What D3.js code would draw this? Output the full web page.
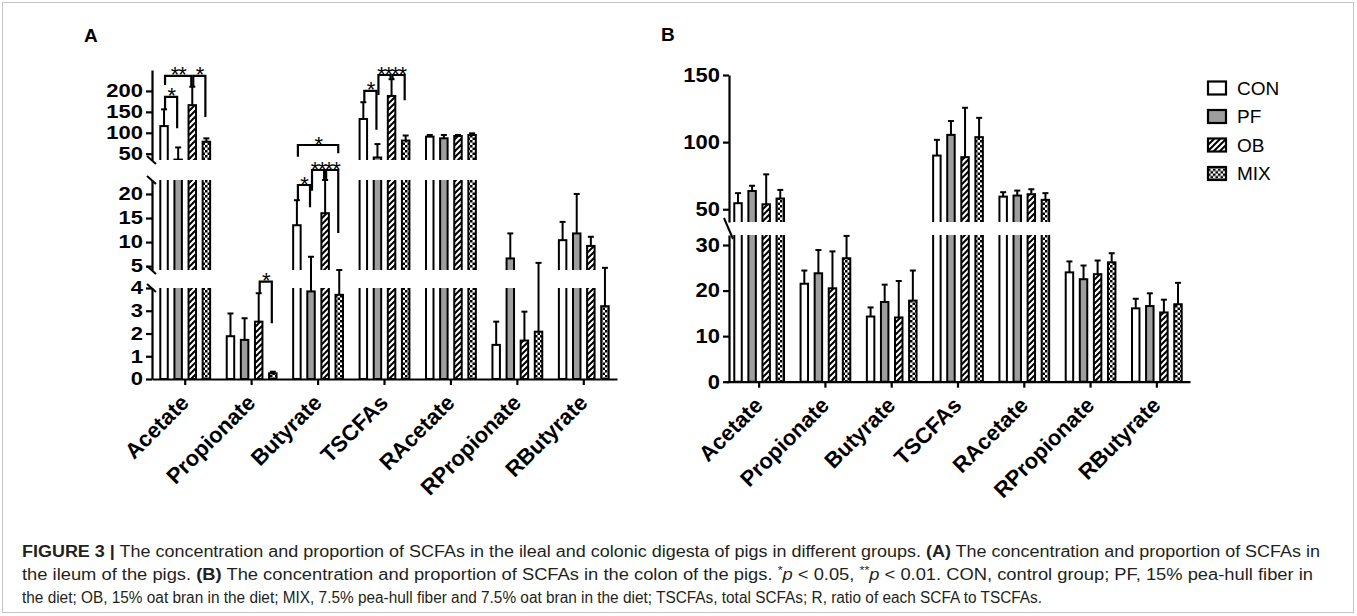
<!DOCTYPE html>
<html><head><meta charset="utf-8">
<script src="https://cdn.jsdelivr.net/npm/d3@7"></script>
<style>
body{margin:0;background:#fff;}
svg{display:block;font-family:"Liberation Sans",Arimo,Arial,Helvetica,sans-serif;}
</style></head><body>
<svg id="c" width="1357" height="616"></svg>
<script>
// ---------- data ----------
const categories = ["Acetate","Propionate","Butyrate","TSCFAs","RAcetate","RPropionate","RButyrate"];
const groups = ["CON","PF","OB","MIX"];

// Panel A: ileum
const ileumCON    = [116, 1.88, 13.5, 133, 90.7, 1.5, 10.4];
const ileumCONerr = [40, 1.0, 5.2, 40, 4, 1.02, 3.8];
const ileumPF     = [36, 1.72, 3.85, 41, 86.8, 6.6, 11.8];
const ileumPFerr  = [29, 0.95, 3.1, 32, 8, 5.2, 8.2];
const ileumOB     = [166, 2.52, 16, 188, 92.3, 1.69, 9.2];
const ileumOBerr  = [44, 1.25, 6.9, 40, 2.4, 1.27, 1.9];
const ileumMIX    = [78.7, 0.25, 3.7, 81.5, 94.7, 2.08, 3.2];
const ileumMIXerr = [8, 0.07, 0.5, 12, 4, 3.6, 1.45];

// Panel B: colon
const colonCON    = [54.5, 21.5, 14.3, 90, 59.4, 24, 16.1];
const colonCONerr = [7.5, 2.9, 2, 11.7, 3.3, 2.4, 2.1];
const colonPF     = [63.6, 23.8, 17.5, 105.4, 60.2, 22.5, 16.6];
const colonPFerr  = [3.9, 5.1, 3.8, 10.3, 3.7, 3, 2.8];
const colonOB     = [53.7, 20.5, 14.1, 88.8, 61.2, 23.6, 15.2];
const colonOBerr  = [22.3, 8.1, 8, 36.8, 3.7, 3, 2.8];
const colonMIX    = [58, 27.1, 17.8, 103.7, 57, 26.2, 17];
const colonMIXerr = [6.4, 4.9, 6.6, 14.4, 5, 2, 4.7];

// axis segments (broken y axes), listed bottom to top
const ticksA = [[0,1,2,3,4],[5,10,15,20],[50,100,150,200]];
const ticksB = [[0,10,20,30],[50,100,150]];

// significance brackets of panel A (values in data units)
const bracketsA = [
  {cat:"Acetate", from:"CON", to:"PF",  top:186,  left:156,  right:111,  label:"*"},
  {cat:"Acetate", from:"CON", to:"OB",  top:236,  left:214,  right:210,  label:"**"},
  {cat:"Acetate", from:"OB",  to:"MIX", top:236,  left:210,  right:138,  label:"*"},
  {cat:"Propionate", from:"OB", to:"MIX", top:4.07, left:3.78, right:2.45, label:"*"},
  {cat:"Butyrate", from:"CON", to:"MIX", top:70.8, left:42.9, right:51,  label:"*"},
  {cat:"Butyrate", from:"CON", to:"PF",  top:21.86, left:18.74, right:17.23, label:"*"},
  {cat:"Butyrate", from:"PF",  to:"OB",  top:28.95, left:20.68, right:22.9, label:"**"},
  {cat:"Butyrate", from:"OB",  to:"MIX", top:28.95, left:22.9, right:11.9, label:"**"},
  {cat:"TSCFAs", from:"CON", to:"PF",  top:200, left:173, right:107, label:"*"},
  {cat:"TSCFAs", from:"PF",  to:"OB",  top:238, left:190, right:228, label:"**"},
  {cat:"TSCFAs", from:"OB",  to:"MIX", top:238, left:228, right:178, label:"**"}
];

const legendLabels = ["CON","PF","OB","MIX"];

// ---------- drawing ----------
const svg = d3.select("#c");
const defs = svg.append("defs");
const FONT = '"Liberation Sans",Arimo,Arial,Helvetica,sans-serif';

const hatch = defs.append("pattern").attr("id","hatch").attr("patternUnits","userSpaceOnUse")
  .attr("width",6).attr("height",6);
hatch.append("rect").attr("width",6).attr("height",6).attr("fill","#fff");
hatch.append("path").attr("d","M-1,7 L7,-1 M-4,4 L4,-4 M2,10 L10,2")
  .attr("stroke","#000").attr("stroke-width",2);

const chk = defs.append("pattern").attr("id","checker").attr("patternUnits","userSpaceOnUse")
  .attr("width",5).attr("height",5);
chk.append("rect").attr("width",5).attr("height",5).attr("fill","#fff");
chk.append("rect").attr("width",2.5).attr("height",2.5).attr("fill","#000");
chk.append("rect").attr("x",2.5).attr("y",2.5).attr("width",2.5).attr("height",2.5).attr("fill","#000");

const fills = ["#ffffff","#9e9e9e","url(#hatch)","url(#checker)"];

// outer frame
svg.append("rect").attr("x",2.5).attr("y",2.5).attr("width",1351).attr("height",610)
  .attr("fill","none").attr("stroke","#c4c4c4").attr("stroke-width",1);

function drawPanel(p){
  const g = svg.append("g");
  const dom = [], rng = [];
  p.segments.forEach(s => { dom.push(s.domain[0], s.domain[1]); rng.push(s.range[0], s.range[1]); });
  const y = d3.scaleLinear().domain(dom).range(rng);
  const x0 = d3.scaleBand().domain(categories).range(p.xRange).paddingInner(0.25).paddingOuter(0.125);
  const x1 = d3.scaleBand().domain(groups).range([0, x0.bandwidth()]).paddingInner(0.47);
  const series = groups.map((name,i)=>({name, fill:fills[i], values:p.values[i], errors:p.errors[i]}));

  p.segments.forEach((s,si)=>{
    const id = p.id + "clip" + si;
    defs.append("clipPath").attr("id",id).append("rect")
      .attr("x",p.xRange[0]).attr("y",s.range[1])
      .attr("width",p.xRange[1]-p.xRange[0]).attr("height",s.range[0]-s.range[1]);
    const sg = g.append("g").attr("clip-path",`url(#${id})`);
    series.forEach(se=>{
      sg.selectAll(null).data(categories).join("rect")
        .attr("x", c => x0(c) + x1(se.name))
        .attr("y", (c,i) => y(se.values[i]))
        .attr("width", x1.bandwidth())
        .attr("height", (c,i) => y(0) - y(se.values[i]))
        .attr("fill", se.fill).attr("stroke","#000").attr("stroke-width",2);
    });
  });

  series.forEach(se=>{
    const eg = g.append("g").attr("stroke","#000").attr("stroke-width",2);
    const cx = c => x0(c) + x1(se.name) + x1.bandwidth()/2;
    eg.selectAll(null).data(categories).join("line")
      .attr("x1",cx).attr("x2",cx)
      .attr("y1",(c,i)=>y(se.values[i]))
      .attr("y2",(c,i)=>y(se.values[i]+se.errors[i]));
    eg.selectAll(null).data(categories).join("line")
      .attr("x1",c=>cx(c)-3).attr("x2",c=>cx(c)+3)
      .attr("y1",(c,i)=>y(se.values[i]+se.errors[i]))
      .attr("y2",(c,i)=>y(se.values[i]+se.errors[i]));
  });

  if (p.brackets){
    const bc = (c,gr) => x0(c) + x1(gr) + x1.bandwidth()/2;
    const bg = g.append("g");
    bg.selectAll(null).data(p.brackets).join("path")
      .attr("d", b => {
        const xa = bc(b.cat,b.from)+1, xb = bc(b.cat,b.to)-1;
        return `M${xa},${y(b.left)}V${y(b.top)}H${xb}V${y(b.right)}`;
      })
      .attr("fill","none").attr("stroke","#000").attr("stroke-width",2.2);
    bg.selectAll(null).data(p.brackets).join("text")
      .attr("x", b => (bc(b.cat,b.from)+bc(b.cat,b.to))/2)
      .attr("y", b => y(b.top) + 6.5)
      .attr("text-anchor","middle").attr("font-size",22).attr("letter-spacing",-1.2)
      .attr("font-family",FONT)
      .text(b => b.label);
  }

  p.segments.forEach((s,si)=>{
    const sc = d3.scaleLinear().domain(s.domain).range(s.range);
    const ax = g.append("g").attr("transform",`translate(${p.axisX},0)`)
      .call(d3.axisLeft(sc).tickValues(s.ticks).tickSize(6).tickSizeOuter(0).tickPadding(3).tickFormat(d3.format("d")));
    ax.attr("font-family",FONT);
    ax.select(".domain").attr("stroke-width",2.2).attr("stroke","#000");
    ax.selectAll(".tick line").attr("stroke-width",2.2).attr("stroke","#000");
    ax.selectAll(".tick text").attr("font-size",22).attr("font-weight","bold")
      .attr("font-family",FONT).attr("fill","#000")
      .attr("transform",`scale(1,${p.labelSquash})`);
  });

  const bm = g.append("g").attr("stroke","#000").attr("stroke-width",2);
  bm.selectAll(null).data(p.breaks).join("line")
    .attr("x1",p.axisX-5).attr("x2",p.axisX+4)
    .attr("y1",d=>y(d[0])-4).attr("y2",d=>y(d[1])+4);

  const xa = g.append("g").attr("transform",`translate(0,${y(0)})`)
    .call(d3.axisBottom(x0).tickSize(6).tickSizeOuter(0));
  xa.attr("font-family",FONT);
  xa.select(".domain").attr("stroke-width",2.2).attr("stroke","#000");
  xa.selectAll(".tick line").attr("stroke-width",2.2).attr("stroke","#000");
  xa.selectAll(".tick text").attr("font-size",22).attr("font-weight","bold")
    .attr("font-family",FONT).attr("fill","#000")
    .attr("text-anchor","end").attr("x",0).attr("y",0).attr("dy",0)
    .attr("transform","translate(5,25) rotate(-45)");

  svg.append("text").attr("x",p.label[1]).attr("y",p.label[2])
    .attr("font-size",19).attr("font-weight","bold").attr("font-family",FONT).text(p.label[0]);
}

drawPanel({
  id:"A",
  xRange:[152,617], axisX:152, labelSquash:0.82,
  segments:[
    {domain:[0,4], range:[379,288], ticks:ticksA[0]},
    {domain:[4.2,22.9], range:[270,180], ticks:ticksA[1]},
    {domain:[35,250], range:[160,70], ticks:ticksA[2]}
  ],
  breaks:[[4,4],[4.2,4.2],[22.9,22.9],[35,35]],
  values:[ileumCON, ileumPF, ileumOB, ileumMIX],
  errors:[ileumCONerr, ileumPFerr, ileumOBerr, ileumMIXerr],
  brackets:bracketsA,
  label:["A",84,42]
});

drawPanel({
  id:"B",
  xRange:[726,1190], axisX:729, labelSquash:0.9,
  segments:[
    {domain:[0,32.2], range:[381.7,235], ticks:ticksB[0]},
    {domain:[40.5,150], range:[222,75], ticks:ticksB[1]}
  ],
  breaks:[[40.5,32.2]],
  values:[colonCON, colonPF, colonOB, colonMIX],
  errors:[colonCONerr, colonPFerr, colonOBerr, colonMIXerr],
  brackets:null,
  label:["B",661,41]
});

const lg = svg.append("g").attr("transform","translate(1208,88)");
const li = lg.selectAll("g").data(legendLabels).join("g")
  .attr("transform",(d,i)=>`translate(0,${i*28.5})`);
li.append("rect").attr("x",0).attr("y",-6.5).attr("width",18).attr("height",13)
  .attr("fill",(d,i)=>fills[i]).attr("stroke","#000").attr("stroke-width",2.2);
li.append("text").attr("x",29).attr("y",0).attr("dy","0.36em")
  .attr("font-size",19).attr("font-family",FONT).text(d=>d);

const capFont = '"Liberation Sans",Arimo,Arial,sans-serif';
const captionLines = [
  {len:1298, parts:[["FIGURE 3 |","b"],[" The concentration and proportion of SCFAs in the ileal and colonic digesta of pigs in different groups. ",""],["(A)","b"],[" The concentration and proportion of SCFAs in",""]]},
  {len:1291, parts:[["the ileum of the pigs. ",""],["(B)","b"],[" The concentration and proportion of SCFAs in the colon of the pigs. ",""],["*","s"],["p","i"],[" < 0.05, ",""],["**","s"],["p","i"],[" < 0.01. CON, control group; PF, 15% pea-hull fiber in",""]]},
  {len:1020, parts:[["the diet; OB, 15% oat bran in the diet; MIX, 7.5% pea-hull fiber and 7.5% oat bran in the diet; TSCFAs, total SCFAs; R, ratio of each SCFA to TSCFAs.",""]]}
];
const cap = svg.append("g").attr("font-family",capFont).attr("font-size",16).attr("fill","#231f20");
captionLines.forEach((ln,i)=>{
  const t = cap.append("text").attr("x",22).attr("y",557+i*23)
    .attr("textLength",ln.len).attr("lengthAdjust","spacingAndGlyphs");
  ln.parts.forEach(pt=>{
    const ts = t.append("tspan").text(pt[0]);
    if (pt[1]==="b") ts.attr("font-weight","bold");
    if (pt[1]==="i") ts.attr("font-style","italic");
    if (pt[1]==="s") ts.attr("font-size",11).attr("baseline-shift","super");
  });
});
</script>
</body></html>
